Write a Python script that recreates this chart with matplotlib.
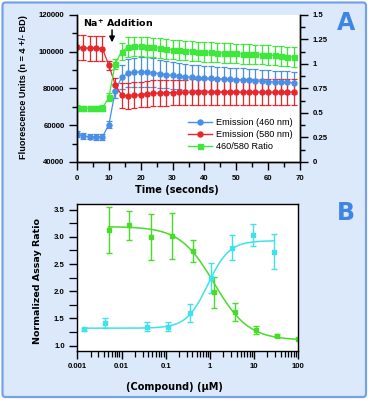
import numpy as np
import matplotlib
matplotlib.use('Agg')
import matplotlib.pyplot as plt
from matplotlib.patches import FancyBboxPatch
from matplotlib.ticker import MultipleLocator, LogLocator, NullFormatter, FuncFormatter
from matplotlib.lines import Line2D

# ---------------- Panel A data ----------------
time_s = [0, 2, 4, 6, 8, 10, 12, 14, 16, 18, 20, 22, 24, 26, 28, 30, 32, 34,
          36, 38, 40, 42, 44, 46, 48, 50, 52, 54, 56, 58, 60, 62, 64, 66, 68]
em460 = [55200, 54000, 53800, 53600, 53700, 60300, 78500, 86000, 88200, 88800,
         89000, 88800, 88500, 88000, 87500, 87000, 86600, 86300, 86000, 85800,
         85600, 85400, 85200, 85000, 84900, 84700, 84500, 84300, 84100, 83900,
         83700, 83500, 83300, 83200, 83000]
em460_err = [1500, 1500, 1500, 1500, 1500, 2000, 4000, 6500, 7500, 7800,
             8000, 8000, 7800, 7600, 7400, 7200, 7100, 7000, 6900, 6800,
             6700, 6600, 6500, 6500, 6400, 6400, 6300, 6300, 6200, 6200,
             6100, 6100, 6000, 6000, 6000]
em580 = [102300, 102000, 101800, 101800, 101600, 92500, 82000, 76300, 75800, 76200,
         76600, 77000, 77300, 77500, 77600, 77700, 77800, 77800, 77900, 77900,
         78000, 78000, 78000, 78000, 78000, 78000, 78000, 78000, 78000, 78000,
         78000, 78000, 78000, 78000, 78000]
em580_err = [6800, 6800, 6800, 6800, 6800, 2500, 3500, 6800, 7000, 7000,
             7000, 7000, 7000, 7000, 7000, 7000, 7000, 7000, 7000, 7000,
             7000, 7000, 7000, 7000, 7000, 7000, 7000, 7000, 7000, 7000,
             7000, 7000, 7000, 7000, 7000]
ratio = [0.550, 0.545, 0.545, 0.545, 0.548, 0.660, 1.000, 1.125, 1.170, 1.178,
         1.178, 1.172, 1.166, 1.160, 1.152, 1.145, 1.140, 1.135, 1.130, 1.125,
         1.120, 1.117, 1.114, 1.111, 1.108, 1.105, 1.102, 1.099, 1.096, 1.093,
         1.090, 1.086, 1.080, 1.074, 1.068]
ratio_err = [0.03, 0.03, 0.03, 0.03, 0.03, 0.04, 0.05, 0.09, 0.10, 0.10,
             0.10, 0.10, 0.10, 0.10, 0.10, 0.10, 0.10, 0.10, 0.10, 0.10,
             0.10, 0.10, 0.10, 0.10, 0.10, 0.10, 0.10, 0.10, 0.10, 0.10,
             0.10, 0.10, 0.10, 0.10, 0.10]
legend_labels = ['Emission (460 nm)', 'Emission (580 nm)', '460/580 Ratio']

# ---------------- Panel B data ----------------
conc_green = [0.0051, 0.015, 0.046, 0.137, 0.41, 1.23, 3.7, 11.1, 33.3, 100]
assay_green = [3.13, 3.21, 3.00, 3.02, 2.74, 1.98, 1.62, 1.29, 1.18, 1.125]
assay_green_err = [0.42, 0.275, 0.43, 0.42, 0.20, 0.29, 0.17, 0.07, 0.025, 0.0]
conc_cyan = [0.00142, 0.0043, 0.038, 0.115, 0.35, 1.04, 3.1, 9.3, 28]
assay_cyan = [1.30, 1.42, 1.35, 1.35, 1.595, 2.24, 2.80, 3.035, 2.73]
assay_cyan_err = [0.03, 0.09, 0.08, 0.08, 0.165, 0.28, 0.23, 0.20, 0.32]

# four-parameter logistic fit parameters (start level, end level, EC50, Hill)
fit_green = (3.19, 1.10, 1.25, 1.12)
fit_cyan = (1.32, 2.93, 0.90, 1.80)

C_BLUE = '#4a8fe7'
C_RED = '#e8262b'
C_GREEN = '#3ee83a'
C_GREEN_B = '#48dc2a'
C_CYAN = '#3fe2ea'

W, H = 370, 403
fig = plt.figure(figsize=(W / 100, H / 100), dpi=100)
fig.patch.set_facecolor('white')
bg = FancyBboxPatch((2.5 / W, 1 - 397 / H), (366 - 2.5) / W, (397 - 2.5) / H,
                    boxstyle='round,pad=0,rounding_size=0.008',
                    transform=fig.transFigure, facecolor='#dce9fb',
                    edgecolor='#74a2e8', linewidth=1.6, zorder=-10)
fig.patches.append(bg)

TICKFONT = dict(family='Liberation Sans', weight='bold', size=5.6)


def style_ticklabels(axis_obj):
    for lab in axis_obj.get_ticklabels():
        lab.set_fontfamily(TICKFONT['family'])
        lab.set_fontweight(TICKFONT['weight'])
        lab.set_fontsize(TICKFONT['size'])


# ---------------- Panel A ----------------
ax = fig.add_axes([77 / W, 1 - 162 / H, 223 / W, 147.3 / H])
ax.set_facecolor('white')
ax2 = ax.twinx()

ebkw = dict(elinewidth=0.9, capsize=2.0, capthick=0.9, markersize=3.6, linewidth=0.9)
ax.errorbar(time_s, em460, yerr=em460_err, color=C_BLUE, marker='o', **ebkw)
ax.errorbar(time_s, em580, yerr=em580_err, color=C_RED, marker='o', **ebkw)
ax2.errorbar(time_s, ratio, yerr=ratio_err, color=C_GREEN, marker='s', **ebkw)

ax.set_xlim(0, 70)
ax.set_ylim(40000, 120000)
ax2.set_ylim(0, 1.5)
ax.xaxis.set_major_locator(MultipleLocator(10))
ax.xaxis.set_minor_locator(MultipleLocator(5))
ax.yaxis.set_major_locator(MultipleLocator(20000))
ax.yaxis.set_minor_locator(MultipleLocator(10000))
ax2.yaxis.set_major_locator(MultipleLocator(0.25))
ax2.yaxis.set_minor_locator(MultipleLocator(0.125))
ax2.yaxis.set_major_formatter(FuncFormatter(lambda v, p: f'{v:g}'))
for a in (ax, ax2):
    a.spines['top'].set_visible(False)
    for s in a.spines.values():
        s.set_linewidth(1.0)
    a.tick_params(which='major', direction='out', length=6, width=1.0, pad=3)
    a.tick_params(which='minor', direction='out', length=3.5, width=1.0)
style_ticklabels(ax.xaxis)
style_ticklabels(ax.yaxis)
style_ticklabels(ax2.yaxis)

ax.set_xlabel('Time (seconds)', fontfamily='DejaVu Sans', fontweight='bold', fontsize=7)
ax.xaxis.set_label_coords(0.448, -0.19)
ax.xaxis.label.set_va('center')
ax.set_ylabel('Fluorescence Units (n = 4 +/- BD)', fontfamily='Liberation Sans',
              fontweight='bold', fontsize=6.6)
ax.yaxis.set_label_coords(-0.238, 0.506)
ax.yaxis.label.set_va('center')

ax2.annotate('', xy=(11, 103500), xytext=(11, 113200), xycoords=ax.transData,
             textcoords=ax.transData,
             arrowprops=dict(arrowstyle='-|>', color='black', lw=1.1, mutation_scale=8))
ax.text(1.9, 115300, r'Na$^{\mathbf{+}}$ Addition', fontfamily='DejaVu Sans', fontweight='bold',
        fontsize=6.8, va='center', ha='left')

handles = [Line2D([], [], color=C_BLUE, marker='o', markersize=3.6, lw=1.0),
           Line2D([], [], color=C_RED, marker='o', markersize=3.6, lw=1.0),
           Line2D([], [], color=C_GREEN, marker='s', markersize=3.6, lw=1.0)]
leg = ax2.legend(handles, legend_labels, loc='upper left',
                 bbox_to_anchor=((188 - 77) / 223, (162 - 118) / 147.3),
                 frameon=False, borderpad=0, borderaxespad=0, handlelength=2.6,
                 handletextpad=0.5, labelspacing=0.35,
                 prop=dict(family='Liberation Sans', size=6.6))

# ---------------- Panel B ----------------
bx = fig.add_axes([77.3 / W, 1 - 351 / H, 221 / W, 146.7 / H])
bx.set_facecolor('white')
bx.set_xscale('log')
bx.set_xlim(0.001, 100)
bx.set_ylim(0.9, 3.6)


def four_pl(x, p):
    start, end, ec50, hill = p
    return end + (start - end) / (1.0 + (x / ec50) ** hill)


xg = np.logspace(np.log10(conc_green[0]), np.log10(conc_green[-1]), 300)
xc = np.logspace(np.log10(conc_cyan[0]), np.log10(conc_cyan[-1]), 300)
bx.plot(xg, four_pl(xg, fit_green), color=C_GREEN_B, lw=1.1)
bx.plot(xc, four_pl(xc, fit_cyan), color=C_CYAN, lw=1.1)

bkw = dict(fmt='s', elinewidth=1.0, capsize=2.2, capthick=1.0, markersize=2.6)
bx.errorbar(conc_green, assay_green, yerr=assay_green_err, color=C_GREEN_B, **bkw)
bx.errorbar(conc_cyan, assay_cyan, yerr=assay_cyan_err, color=C_CYAN, **bkw)

bx.yaxis.set_major_locator(MultipleLocator(0.5))
bx.yaxis.set_minor_locator(MultipleLocator(0.25))
bx.yaxis.set_major_formatter(FuncFormatter(lambda v, p: f'{v:.1f}'))
bx.xaxis.set_major_locator(LogLocator(base=10, numticks=10))
bx.xaxis.set_minor_locator(LogLocator(base=10, subs=np.arange(2, 10), numticks=10))
bx.xaxis.set_minor_formatter(NullFormatter())
bx.xaxis.set_major_formatter(FuncFormatter(lambda v, p: f'{v:g}'))
for s in bx.spines.values():
    s.set_linewidth(1.0)
bx.tick_params(which='major', direction='out', length=6, width=1.0, pad=3)
bx.tick_params(which='minor', direction='out', length=4, width=0.9)
bx.tick_params(axis='y', which='minor', length=6)
style_ticklabels(bx.xaxis)
style_ticklabels(bx.yaxis)

bx.set_xlabel('(Compound) (µM)', fontfamily='DejaVu Sans', fontweight='bold', fontsize=7)
bx.xaxis.set_label_coords(0.44, -0.245)
bx.xaxis.label.set_va('center')
bx.set_ylabel('Normalized Assay Ratio', fontfamily='DejaVu Sans', fontweight='bold', fontsize=6.8)
bx.yaxis.set_label_coords(-0.178, 0.479)
bx.yaxis.label.set_va('center')

# panel letters
fig.text(346 / W, 1 - 22.5 / H, 'A', color='#3f85e6', fontsize=17, fontweight='bold',
         fontfamily='DejaVu Sans', ha='center', va='center')
fig.text(346 / W, 1 - 213.5 / H, 'B', color='#3f85e6', fontsize=17, fontweight='bold',
         fontfamily='DejaVu Sans', ha='center', va='center')

fig.savefig('out.png', dpi=100, facecolor=fig.get_facecolor())
